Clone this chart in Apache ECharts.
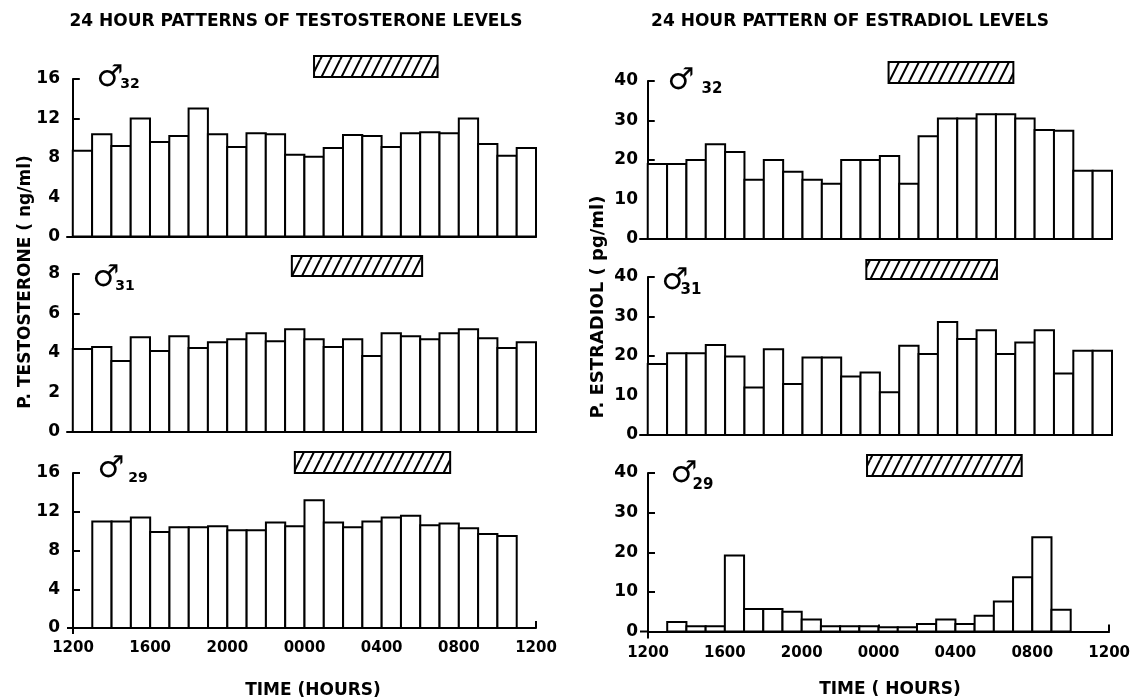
<!DOCTYPE html>
<html>
<head>
<meta charset="utf-8">
<script src="https://cdn.jsdelivr.net/npm/echarts@6/dist/echarts.min.js"></script>
<style>
html, body { margin: 0; padding: 0; background: #fff; }
#chart { width: 1133px; height: 699px; }
</style>
</head>
<body>
<div id="chart"></div>
<script>
// hour (counted from 1200) at which each bar starts
var hoursFull = [0, 1, 2, 3, 4, 5, 6, 7, 8, 9, 10, 11, 12, 13, 14, 15, 16, 17, 18, 19, 20, 21, 22, 23];
var hoursT29 = [1, 2, 3, 4, 5, 6, 7, 8, 9, 10, 11, 12, 13, 14, 15, 16, 17, 18, 19, 20, 21, 22];
var hoursE29 = [1, 2, 3, 4, 5, 6, 7, 8, 9, 10, 11, 12, 13, 14, 15, 16, 17, 18, 19, 20, 21];
var timeLabels = ['1200', '1600', '2000', '0000', '0400', '0800', '1200'];

// testosterone, ng/ml
var testo32 = [8.7, 10.4, 9.2, 12.0, 9.6, 10.2, 13.0, 10.4, 9.1, 10.5, 10.4, 8.3,
               8.1, 9.0, 10.3, 10.2, 9.1, 10.5, 10.6, 10.5, 12.0, 9.4, 8.2, 9.0];
var testo31 = [4.2, 4.3, 3.6, 4.8, 4.1, 4.85, 4.25, 4.55, 4.7, 5.0, 4.6, 5.2,
               4.7, 4.3, 4.7, 3.85, 5.0, 4.85, 4.7, 5.0, 5.2, 4.75, 4.25, 4.55];
var testo29 = [11.0, 11.0, 11.4, 9.9, 10.4, 10.4, 10.5, 10.1, 10.1, 10.9, 10.5,
               13.2, 10.9, 10.4, 11.0, 11.4, 11.6, 10.6, 10.8, 10.3, 9.7, 9.5];

// estradiol, pg/ml
var estra32 = [19, 19, 20, 24, 22, 15, 20, 17, 15, 14, 20, 20,
               21, 14, 26, 30.5, 30.5, 31.6, 31.6, 30.5, 27.6, 27.4, 17.3, 17.3];
var estra31 = [18, 20.7, 20.7, 22.8, 19.9, 12, 21.7, 12.9, 19.6, 19.6, 14.8, 15.8,
               10.8, 22.6, 20.5, 28.6, 24.3, 26.5, 20.5, 23.4, 26.5, 15.6, 21.3, 21.3];
var estra29 = [2.4, 1.3, 1.3, 19.2, 5.7, 5.7, 5.0, 3.0, 1.3, 1.3, 1.3,
               1.1, 1.1, 1.9, 3.0, 1.9, 4.0, 7.6, 13.7, 23.8, 5.5];

// sleep period (hatched box), hours from 1200
var sleepStart = [12.5, 11.35, 11.5, 12.45, 11.3, 11.4];
var sleepEnd = [18.9, 18.1, 19.55, 18.9, 18.05, 19.45];
var subjects = ['32', '31', '29', '32', '31', '29'];

var FONT = 'DejaVu Sans';

var hatch = document.createElement('canvas');
hatch.width = 10;
hatch.height = 20;
var ctx = hatch.getContext('2d');
ctx.fillStyle = '#fff';
ctx.fillRect(0, 0, 10, 20);
ctx.strokeStyle = '#000';
ctx.lineWidth = 2;
ctx.beginPath();
ctx.moveTo(-10, 20); ctx.lineTo(0, 0);
ctx.moveTo(0, 20); ctx.lineTo(10, 0);
ctx.moveTo(10, 20); ctx.lineTo(20, 0);
ctx.stroke();

// layout of the six panels (left column: testosterone, right column: estradiol)
var panels = [
  { data: testo32, hours: hoursFull, max: 16, step: 4, left: 67, top: 79, width: 469, height: 157.5, min: -0.3, boxTop: -23, boxH: 21, lm: 7 },
  { data: testo31, hours: hoursFull, max: 8, step: 2, left: 67, top: 274, width: 469, height: 158, min: -0.3, boxTop: -18, boxH: 20, lm: 7 },
  { data: testo29, hours: hoursT29, max: 16, step: 4, left: 73, top: 473, width: 463, height: 155, min: 0, last: true, boxTop: -21, boxH: 21, lm: 7, yoff: 6, xoff: 6 },
  { data: estra32, hours: hoursFull, max: 40, step: 10, left: 640, top: 81, width: 472, height: 158, min: -0.4, boxTop: -19, boxH: 21, lm: 2 },
  { data: estra31, hours: hoursFull, max: 40, step: 10, left: 640, top: 277, width: 472, height: 158, min: -0.4, boxTop: -17, boxH: 19, lm: 2 },
  { data: estra29, hours: hoursE29, max: 40, step: 10, left: 648, top: 473, width: 464, height: 158.5, min: 0, last: true, boxTop: -18, boxH: 21, lm: 2, yoff: 8, xoff: 7 }
];

function barItem(params, api) {
  var start = api.value(0);
  var p0 = api.coord([start, 0]);
  var p1 = api.coord([start + 1, api.value(1)]);
  return {
    type: 'rect',
    shape: { x: p0[0], y: p1[1], width: p1[0] - p0[0], height: p0[1] - p1[1] },
    style: { fill: '#fff', stroke: '#000', lineWidth: 2 }
  };
}

function sleepItem(p) {
  return function (params, api) {
    var a = api.coord([api.value(0), 0]);
    var b = api.coord([api.value(1), 0]);
    var cs = params.coordSys;
    return {
      type: 'rect',
      shape: { x: a[0], y: cs.y + p.boxTop, width: b[0] - a[0], height: p.boxH },
      style: { fill: { image: hatch, repeat: 'repeat' }, stroke: '#000', lineWidth: 2 }
    };
  };
}

var grid = [], xAxis = [], yAxis = [], series = [];
panels.forEach(function (p, i) {
  grid.push({ left: p.left, top: p.top, width: p.width, height: p.height });
  xAxis.push({
    type: 'value', gridIndex: i,
    min: p.min, max: 24, interval: 4,
    offset: p.xoff || 0,
    axisLine: { show: true, lineStyle: { color: '#000', width: 2 } },
    axisTick: { show: !!p.last, inside: true, length: 7, lineStyle: { color: '#000', width: 2 } },
    axisLabel: {
      show: !!p.last, margin: 7, color: '#000', fontFamily: FONT, fontWeight: 'bold', fontSize: 15,
      formatter: function (v) { return timeLabels[Math.round(v / 4)]; }
    },
    splitLine: { show: false }
  });
  yAxis.push({
    type: 'value', gridIndex: i, min: 0, max: p.max, interval: p.step,
    offset: p.yoff || 0,
    axisLine: { show: true, lineStyle: { color: '#000', width: 2 } },
    axisTick: { show: true, inside: true, length: 7, lineStyle: { color: '#000', width: 2 } },
    axisLabel: { margin: p.lm, color: '#000', fontFamily: FONT, fontWeight: 'bold', fontSize: 17 },
    splitLine: { show: false }
  });
  series.push({
    type: 'custom', xAxisIndex: i, yAxisIndex: i, clip: false,
    renderItem: barItem,
    data: p.hours.map(function (h, k) { return [h, p.data[k]]; })
  });
  series.push({
    type: 'custom', xAxisIndex: i, yAxisIndex: i, clip: false, z: 3,
    renderItem: sleepItem(p),
    data: [[sleepStart[i], sleepEnd[i]]]
  });
});

// subject labels: male symbol + number
var symPos = [[110, 78], [106, 278], [111, 469], [681, 81], [675, 281], [684, 474]];
var numPos = [[130, 84], [125, 286], [138, 478], [712, 89], [691, 290], [703, 485]];
var graphic = [];
symPos.forEach(function (s, i) {
  graphic.push({ type: 'text', x: s[0], y: s[1], style: { text: '\u2642', fill: '#000', font: 'bold 30px ' + FONT, align: 'center', verticalAlign: 'middle' } });
  graphic.push({ type: 'text', x: numPos[i][0], y: numPos[i][1], style: { text: subjects[i], fill: '#000', font: 'bold ' + (i < 3 ? 14 : 15) + 'px ' + FONT, align: 'center', verticalAlign: 'middle' } });
});

// stepped corner where the y axis meets the lowered time axis
graphic.push({ type: 'polyline', shape: { points: [[67, 628], [73, 628], [73, 634]] }, style: { fill: null, stroke: '#000', lineWidth: 2 } });
graphic.push({ type: 'polyline', shape: { points: [[640, 631.5], [648, 631.5], [648, 638.5]] }, style: { fill: null, stroke: '#000', lineWidth: 2 } });

var texts = [
  { t: '24 HOUR PATTERNS OF TESTOSTERONE LEVELS', x: 296, y: 22, r: 0, s: 17 },
  { t: '24 HOUR PATTERN OF ESTRADIOL LEVELS', x: 850, y: 22, r: 0, s: 17 },
  { t: 'TIME (HOURS)', x: 313, y: 691, r: 0, s: 17 },
  { t: 'TIME ( HOURS)', x: 890, y: 690, r: 0, s: 17 },
  { t: 'P. TESTOSTERONE ( ng/ml)', x: 26, y: 282, r: Math.PI / 2, s: 17 },
  { t: 'P. ESTRADIOL ( pg/ml)', x: 598, y: 307, r: Math.PI / 2, s: 18 }
];
texts.forEach(function (d) {
  graphic.push({
    type: 'text', x: d.x, y: d.y, rotation: d.r,
    style: { text: d.t, fill: '#000', font: 'bold ' + d.s + 'px ' + FONT, align: 'center', verticalAlign: 'middle' }
  });
});

var myChart = echarts.init(document.getElementById('chart'));
var option = {
  backgroundColor: '#fff',
  animation: false,
  grid: grid,
  xAxis: xAxis,
  yAxis: yAxis,
  series: series,
  graphic: graphic
};
myChart.setOption(option);
</script>
</body>
</html>
